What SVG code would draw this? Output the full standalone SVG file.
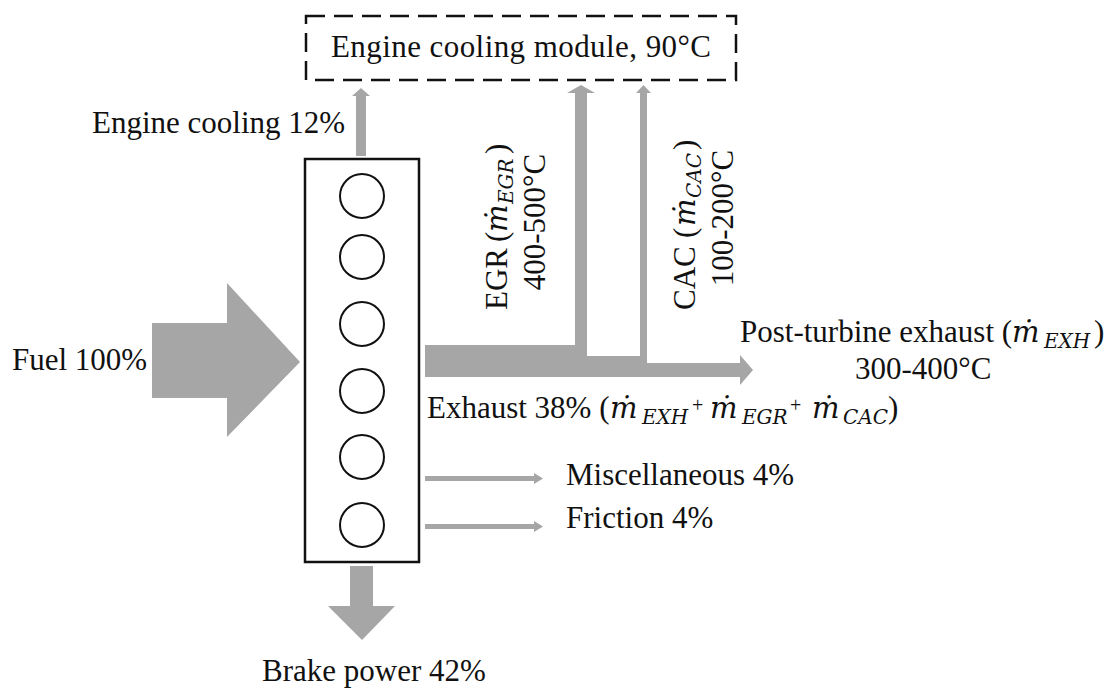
<svg xmlns="http://www.w3.org/2000/svg" width="1106" height="689" viewBox="0 0 1106 689">
<style>
.t{font-family:"Liberation Serif","Times New Roman",serif;font-size:31px;fill:#111}
.m{font-family:"DejaVu Serif",serif;font-style:italic;font-size:29px}
.s{font-family:"DejaVu Serif",serif;font-style:italic;font-size:20px}
.p{font-size:20px}
.flow{fill:#a6a6a6}
.box{fill:none;stroke:#111;stroke-width:2.5}
.cyl{fill:none;stroke:#111;stroke-width:2}
</style>
<rect width="1106" height="689" fill="#fff"/>

<g id="cooling-module">
  <rect x="306" y="16" width="430" height="64" class="box" stroke-dasharray="19 9"/>
  <text class="t" x="521" y="57" text-anchor="middle" textLength="380">Engine cooling module, 90°C</text>
</g>

<g id="engine">
  <rect x="305" y="159" width="114" height="403" class="box"/>
  <circle cx="362" cy="196" r="22" class="cyl"/>
  <circle cx="362" cy="257" r="22" class="cyl"/>
  <circle cx="362" cy="324" r="22" class="cyl"/>
  <circle cx="362" cy="391" r="22" class="cyl"/>
  <circle cx="362" cy="457" r="22" class="cyl"/>
  <circle cx="362" cy="525" r="22" class="cyl"/>
</g>

<g id="fuel">
  <polygon class="flow" points="152,323 227,323 227,283 300,362 227,437 227,398 152,398"/>
  <text class="t" x="12" y="370">Fuel 100%</text>
</g>

<g id="connectors">
  <!-- engine cooling -->
  <rect class="flow" x="356" y="95" width="10" height="61"/>
  <polygon class="flow" points="352,96 361,88 370,96"/>
  <!-- exhaust trunk -->
  <rect class="flow" x="425" y="345" width="162" height="32"/>
  <rect class="flow" x="587" y="356" width="60" height="21"/>
  <rect class="flow" x="647" y="363" width="94" height="14"/>
  <polygon class="flow" points="740,355 753,370 740,385"/>
  <!-- EGR branch -->
  <rect class="flow" x="575" y="92" width="12" height="254"/>
  <polygon class="flow" points="567,93 581,85 595,93"/>
  <!-- CAC branch -->
  <rect class="flow" x="640" y="92" width="7" height="272"/>
  <polygon class="flow" points="636,93 643.5,85 651,93"/>
  <!-- misc & friction -->
  <rect class="flow" x="425" y="476" width="111" height="5"/>
  <polygon class="flow" points="534,473 543,478.5 534,484"/>
  <rect class="flow" x="425" y="524" width="111" height="5"/>
  <polygon class="flow" points="534,521 543,526.5 534,532"/>
  <!-- brake power -->
  <rect class="flow" x="350" y="566" width="23" height="42"/>
  <polygon class="flow" points="328,606 395,606 362,640"/>
</g>

<g id="label-cooling">
  <text class="t" x="92" y="133">Engine cooling 12%</text>
</g>

<g id="label-egr">
  <text class="t" transform="translate(507,310) rotate(-90)"><tspan x="0" y="0">EGR</tspan><tspan x="68" y="0">(</tspan><tspan class="m" x="78" y="0">ṁ</tspan><tspan class="s" x="106" y="6">EGR</tspan><tspan x="156" y="0">)</tspan><tspan x="88" y="38" text-anchor="middle">400-500°C</tspan></text>
</g>

<g id="label-cac">
  <text class="t" transform="translate(695,310) rotate(-90)"><tspan x="0" y="0">CAC</tspan><tspan x="72" y="0">(</tspan><tspan class="m" x="84" y="0">ṁ</tspan><tspan class="s" x="112" y="6">CAC</tspan><tspan x="160" y="0">)</tspan><tspan x="92" y="38" text-anchor="middle">100-200°C</tspan></text>
</g>

<g id="label-post-turbine">
  <text class="t"><tspan x="740" y="342">Post-turbine exhaust (</tspan><tspan class="m" x="1012" y="342">ṁ</tspan><tspan class="s" x="1044" y="348">EXH</tspan><tspan x="1094" y="342">)</tspan></text>
  <text class="t" x="855" y="379">300-400°C</text>
</g>

<g id="label-exhaust">
  <text class="t"><tspan x="427" y="418">Exhaust 38% (</tspan><tspan class="m" x="610" y="418">ṁ</tspan><tspan class="s" x="642" y="424">EXH</tspan><tspan class="p" x="692" y="412">+</tspan><tspan class="m" x="710" y="418">ṁ</tspan><tspan class="s" x="742" y="424">EGR</tspan><tspan class="p" x="790" y="412">+</tspan><tspan class="m" x="812" y="418">ṁ</tspan><tspan class="s" x="843" y="424">CAC</tspan><tspan x="888" y="418">)</tspan></text>
</g>

<g id="label-misc">
  <text class="t" x="566" y="485">Miscellaneous 4%</text>
</g>
<g id="label-friction">
  <text class="t" x="566" y="528">Friction 4%</text>
</g>
<g id="label-brake">
  <text class="t" x="262" y="681">Brake power 42%</text>
</g>
</svg>
